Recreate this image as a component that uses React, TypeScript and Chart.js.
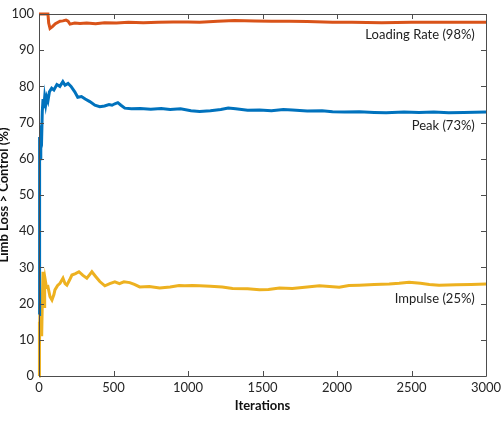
import React, { useEffect, useRef } from "react";
import { Chart, registerables } from "chart.js";

Chart.register(...registerables);

// ---- data ----
const xTicks = [0, 500, 1000, 1500, 2000, 2500, 3000];
const yTicks = [0, 10, 20, 30, 40, 50, 60, 70, 80, 90, 100];

const loadingIter = [0, 60, 65, 74, 90, 110, 141, 160, 181, 195, 208, 240, 275, 320, 380, 440, 520, 600, 700, 800, 900, 1000, 1078, 1200, 1312, 1450, 1560, 1681, 1800, 1969, 2100, 2300, 2500, 2700, 2900, 3000];
const loadingVal = [100, 100, 97.5, 96, 96.5, 97.3, 98, 98.1, 98.3, 98.0, 97.2, 97.5, 97.4, 97.5, 97.3, 97.6, 97.5, 97.7, 97.6, 97.7, 97.8, 97.8, 97.7, 98.0, 98.2, 98.1, 98.0, 98.0, 97.9, 97.7, 97.7, 97.6, 97.7, 97.7, 97.7, 97.7];

const peakIter = [0, 3, 5, 8, 12, 18, 22, 27, 32, 38, 45, 52, 60, 70, 85, 100, 120, 140, 160, 175, 195, 215, 240, 260, 285, 310, 341, 375, 408, 440, 470, 490, 509, 529, 550, 576, 620, 680, 750, 820, 880, 950, 1020, 1078, 1150, 1220, 1270, 1320, 1400, 1480, 1560, 1640, 1700, 1800, 1900, 1970, 2050, 2150, 2250, 2330, 2450, 2550, 2650, 2750, 2850, 3000];
const peakVal = [17, 45, 66, 60, 67, 66, 73, 76.5, 74, 77, 75, 77, 76, 78.5, 79.5, 79, 80.5, 80, 81.3, 80.3, 80.8, 80, 78.5, 77, 77.2, 76.5, 75.8, 74.8, 74.4, 74.6, 75, 74.8, 75.2, 75.5, 74.8, 74, 73.8, 73.9, 73.7, 73.9, 73.6, 73.8, 73.3, 73.1, 73.3, 73.6, 74.0, 73.8, 73.4, 73.5, 73.3, 73.6, 73.5, 73.2, 73.3, 73.0, 72.9, 73.0, 72.8, 72.7, 72.9, 72.8, 72.9, 72.7, 72.8, 72.9];

const impulseIter = [0, 2, 4, 7, 10, 14, 18, 22, 27, 31, 34, 38, 42, 50, 60, 74, 87, 100, 107, 125, 141, 161, 175, 187, 205, 221, 245, 268, 295, 321, 340, 355, 380, 408, 442, 475, 509, 540, 570, 609, 640, 676, 740, 810, 880, 940, 978, 1030, 1078, 1150, 1230, 1299, 1400, 1480, 1540, 1614, 1700, 1800, 1882, 1950, 2015, 2080, 2149, 2250, 2350, 2417, 2484, 2560, 2620, 2685, 2800, 2900, 3000];
const impulseVal = [0, 15, 8, 20, 17, 19, 11, 20, 28.8, 22, 19.2, 24, 26.5, 24.5, 24.7, 21.9, 21, 22.5, 23.8, 25, 25.6, 27, 25.5, 25.1, 26.5, 27.9, 28.3, 28.8, 27.8, 27, 28, 28.8, 27.5, 26.1, 24.9, 25.5, 26, 25.5, 26, 25.8, 25.3, 24.6, 24.7, 24.3, 24.6, 25, 24.9, 25, 24.9, 24.8, 24.6, 24.2, 24.1, 23.8, 23.9, 24.3, 24.2, 24.6, 24.9, 24.7, 24.5, 25, 25.1, 25.3, 25.4, 25.6, 25.9, 25.6, 25.3, 25.1, 25.2, 25.3, 25.4];

const seriesLabels = ["Loading Rate (98%)", "Peak (73%)", "Impulse (25%)"];
const labelAnchorsY = [94.2, 69, 21.3];

const FONT = "Lato, 'Open Sans', sans-serif";
const AXIS_COLOR = "#4d4d4d";

const toPts = (xs: number[], ys: number[]) => xs.map((x, i) => ({ x, y: ys[i] }));

const frameTicks = {
  id: "frameTicks",
  afterDatasetsDraw(chart: any) {
    const { ctx, chartArea: a, scales } = chart;
    const xs = scales.x, ys = scales.y;
    ctx.save();
    ctx.strokeStyle = AXIS_COLOR;
    ctx.lineWidth = 1;
    ctx.beginPath();
    ctx.rect(a.left + 0.5, a.top + 0.5, a.right - a.left, a.bottom - a.top);
    const L = 5;
    xTicks.forEach((t) => {
      const px = Math.round(xs.getPixelForValue(t)) + 0.5;
      ctx.moveTo(px, a.bottom); ctx.lineTo(px, a.bottom - L);
      ctx.moveTo(px, a.top); ctx.lineTo(px, a.top + L);
    });
    yTicks.forEach((t) => {
      const py = Math.round(ys.getPixelForValue(t)) + 0.5;
      ctx.moveTo(a.left, py); ctx.lineTo(a.left + L, py);
      ctx.moveTo(a.right, py); ctx.lineTo(a.right - L, py);
    });
    ctx.stroke();
    // series annotations
    ctx.fillStyle = "#222";
    ctx.font = `13px ${FONT}`;
    ctx.textAlign = "right";
    ctx.textBaseline = "middle";
    seriesLabels.forEach((s, i) => {
      ctx.fillText(s, xs.getPixelForValue(2925), ys.getPixelForValue(labelAnchorsY[i]));
    });
    ctx.restore();
  },
};

export default function App() {
  const ref = useRef<HTMLCanvasElement | null>(null);
  useEffect(() => {
    if (!ref.current) return;
    const chart = new Chart(ref.current, {
      type: "scatter",
      data: {
        datasets: [
          { data: toPts(loadingIter, loadingVal), borderColor: "#D95319", backgroundColor: "#D95319" },
          { data: toPts(peakIter, peakVal), borderColor: "#0072BD", backgroundColor: "#0072BD" },
          { data: toPts(impulseIter, impulseVal), borderColor: "#EDB120", backgroundColor: "#EDB120" },
        ].map((d) => ({ ...d, showLine: true, pointRadius: 0, borderWidth: 3, tension: 0, clip: 2 })) as any,
      },
      options: {
        responsive: false,
        animation: false,
        layout: { padding: { left: 0, top: 14, right: 18, bottom: 0 } },
        plugins: { legend: { display: false }, tooltip: { enabled: false } },
        scales: {
          x: {
            type: "linear",
            min: 0,
            max: 3000,
            afterFit: (s: any) => { s.height = 45; s.paddingLeft = 0; s.paddingRight = 0; },
            afterBuildTicks: (s: any) => { s.ticks = xTicks.map((v) => ({ value: v })); },
            grid: { display: false, drawTicks: false },
            border: { display: false },
            ticks: { color: "#262626", font: { family: FONT, size: 13 }, padding: 4, maxRotation: 0, callback: (v: any) => String(v) },
            title: { display: true, text: "Iterations", color: "#111", font: { family: FONT, size: 13, weight: "bold" }, padding: { top: 0, bottom: 7 } },
          },
          y: {
            type: "linear",
            min: 0,
            max: 100,
            afterFit: (s: any) => { s.width = 39; s.paddingTop = 0; s.paddingBottom = 0; },
            afterBuildTicks: (s: any) => { s.ticks = yTicks.map((v) => ({ value: v })); },
            grid: { display: false, drawTicks: false },
            border: { display: false },
            ticks: { color: "#262626", font: { family: FONT, size: 13 }, padding: 5, callback: (v: any) => String(v) },
            title: { display: true, text: "Limb Loss > Control (%)", color: "#111", font: { family: FONT, size: 13, weight: "bold" }, padding: { top: -4, bottom: 0 } },
          },
        },
      },
      plugins: [frameTicks],
    });
    return () => chart.destroy();
  }, []);
  return (
    <div style={{ position: "absolute", left: 0, top: 0, width: 504, height: 421, background: "#fff" }}>
      <canvas ref={ref} width={504} height={421} style={{ display: "block" }} />
    </div>
  );
}
